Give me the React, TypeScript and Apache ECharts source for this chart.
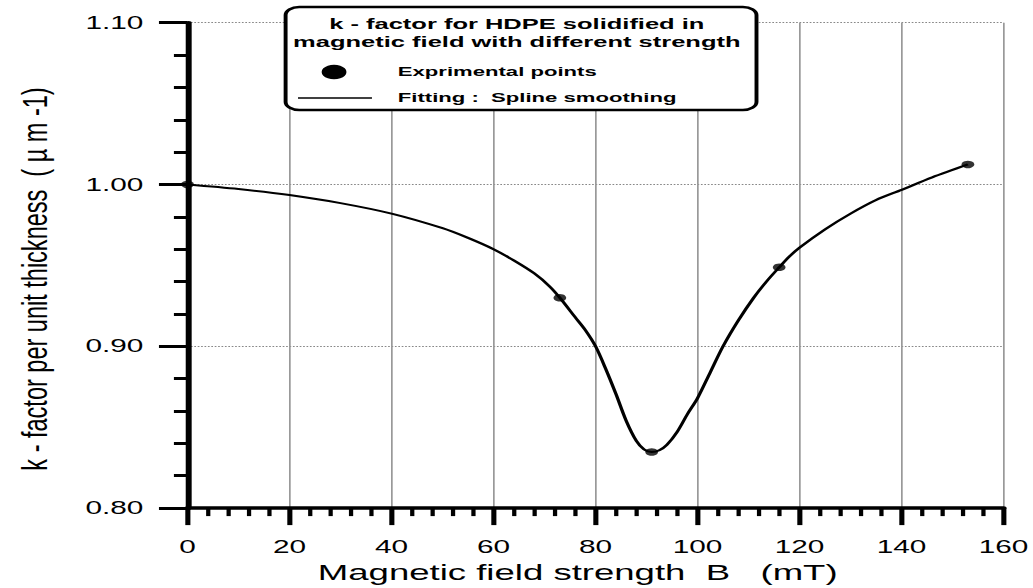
import React, { useEffect, useRef } from "react";
import * as echarts from "echarts";

// Experimental points (B in mT, k-factor per unit thickness)
const pointB = [0, 73, 91, 116, 153];
const pointK = [1.0, 0.93, 0.8346, 0.9488, 1.0124];

// Spline smoothing curve
const curveB = [0, 10, 20, 30, 40, 50, 55, 60, 64, 68, 71, 73, 76, 78, 80, 82, 84, 86, 88, 89.5, 91, 92.5, 94, 96, 98, 100, 102.5, 105, 108, 111, 113.5, 116, 118, 120, 125, 130, 135, 140, 146, 153];
const curveK = [1.0, 0.9972, 0.9935, 0.9885, 0.982, 0.973, 0.967, 0.96, 0.953, 0.945, 0.937, 0.93, 0.918, 0.91, 0.9, 0.886, 0.8705, 0.854, 0.8415, 0.8363, 0.8346, 0.8357, 0.8391, 0.8471, 0.858, 0.868, 0.884, 0.9, 0.916, 0.93, 0.94, 0.9488, 0.9555, 0.961, 0.9723, 0.982, 0.9904, 0.9967, 1.0044, 1.0124];

const xTitle = "Magnetic field strength  B   (mT)";
const yTitle = "k - factor per unit thickness  ( \u00b5 m -1)";
const legendTitle1 = "k - factor for HDPE solidified in";
const legendTitle2 = "magnetic field with different strength";
const legendPoints = "Exprimental points";
const legendFit = "Fitting :  Spline smoothing";

const S = 1.7;
const W = 1033 / S;
const FONT = "Liberation Sans";

export default function App() {
  const ref = useRef<HTMLDivElement>(null);
  useEffect(() => {
    if (!ref.current) return;
    const chart = echarts.init(ref.current, null, { renderer: "svg" });
    chart.setOption({
      animation: false,
      backgroundColor: "#ffffff",
      grid: { left: 110.3, right: W - 590, top: 22.7, bottom: 74.7, containLabel: false },
      xAxis: {
        type: "value",
        min: 0,
        max: 160,
        interval: 20,
        name: xTitle,
        nameLocation: "middle",
        nameGap: 47,
        nameTextStyle: { fontFamily: FONT, fontSize: 21.5, color: "#000", padding: [0, 21, 0, 0] },
        axisLine: { show: true, lineStyle: { color: "#000", width: 3.5 } },
        axisTick: { show: true, inside: false, length: 17, lineStyle: { color: "#000", width: 3 } },
        minorTick: { show: true, splitNumber: 5, length: 8, lineStyle: { color: "#000", width: 2.5 } },
        axisLabel: { fontFamily: FONT, fontSize: 17.5, color: "#000", margin: 30 },
        splitLine: { show: true, lineStyle: { color: "#999", width: 1, type: "solid" } },
      },
      yAxis: {
        type: "value",
        min: 0.8,
        max: 1.1,
        interval: 0.1,
        axisLine: { show: true, onZero: false, lineStyle: { color: "#000", width: 3.5 } },
        axisTick: { show: true, inside: false, length: 16.8, lineStyle: { color: "#000", width: 3 } },
        minorTick: { show: true, splitNumber: 5, length: 8, lineStyle: { color: "#000", width: 3 } },
        axisLabel: { fontFamily: FONT, fontSize: 17.5, color: "#000", margin: 26, formatter: (v: number) => v.toFixed(2) },
        splitLine: { show: true, lineStyle: { color: "#888", width: 1, type: "dotted" } },
      },
      series: [
        {
          type: "line",
          data: curveB.map((b, i) => [b, curveK[i]]),
          smooth: 0.3,
          showSymbol: false,
          symbol: "none",
          lineStyle: { color: "#000", width: 2 },
          z: 3,
        },
        {
          type: "scatter",
          data: pointB.map((b, i) => [b, pointK[i]]),
          symbol: "circle",
          symbolSize: 7.5,
          itemStyle: { color: "#000" },
          clip: false,
          z: 4,
        },
      ],
      graphic: [
        {
          type: "rect",
          z: 10,
          shape: { x: 168, y: 7, width: 277, height: 103, r: 8 },
          style: { fill: "#fff", stroke: "#000", lineWidth: 2.3 },
        },
        {
          type: "text", z: 11, x: 304, y: 24,
          style: { text: legendTitle1, fontFamily: FONT, fontSize: 15, fontWeight: "bold", fill: "#000", align: "center", verticalAlign: "middle", textAlign: "center", textVerticalAlign: "middle" },
        },
        {
          type: "text", z: 11, x: 304, y: 42,
          style: { text: legendTitle2, fontFamily: FONT, fontSize: 15, fontWeight: "bold", fill: "#000", align: "center", verticalAlign: "middle", textAlign: "center", textVerticalAlign: "middle" },
        },
        { type: "circle", z: 11, shape: { cx: 196.5, cy: 72, r: 7.3 }, style: { fill: "#000" } },
        {
          type: "text", z: 11, x: 234, y: 72,
          style: { text: legendPoints, fontFamily: FONT, fontSize: 13, fontWeight: "bold", fill: "#000", align: "left", verticalAlign: "middle", textAlign: "left", textVerticalAlign: "middle" },
        },
        { type: "line", z: 11, shape: { x1: 175.3, y1: 98, x2: 218.8, y2: 98 }, style: { stroke: "#000", lineWidth: 1.5 } },
        {
          type: "text", z: 11, x: 234, y: 98,
          style: { text: legendFit, fontFamily: FONT, fontSize: 13, fontWeight: "bold", fill: "#000", align: "left", verticalAlign: "middle", textAlign: "left", textVerticalAlign: "middle" },
        },
        {
          type: "text", z: 11, x: 20.6, y: 279, rotation: Math.PI / 2, scaleX: 1.12,
          style: { text: yTitle, fontFamily: FONT, fontSize: 21, fill: "#000", align: "center", verticalAlign: "middle", textAlign: "center", textVerticalAlign: "middle" },
        },
      ],
    });
    return () => chart.dispose();
  }, []);
  return (
    <div
      ref={ref}
      style={{
        position: "fixed",
        left: 0,
        top: 0,
        width: W + "px",
        height: "588px",
        transform: `scaleX(${S})`,
        transformOrigin: "0 0",
        background: "#fff",
      }}
    />
  );
}
